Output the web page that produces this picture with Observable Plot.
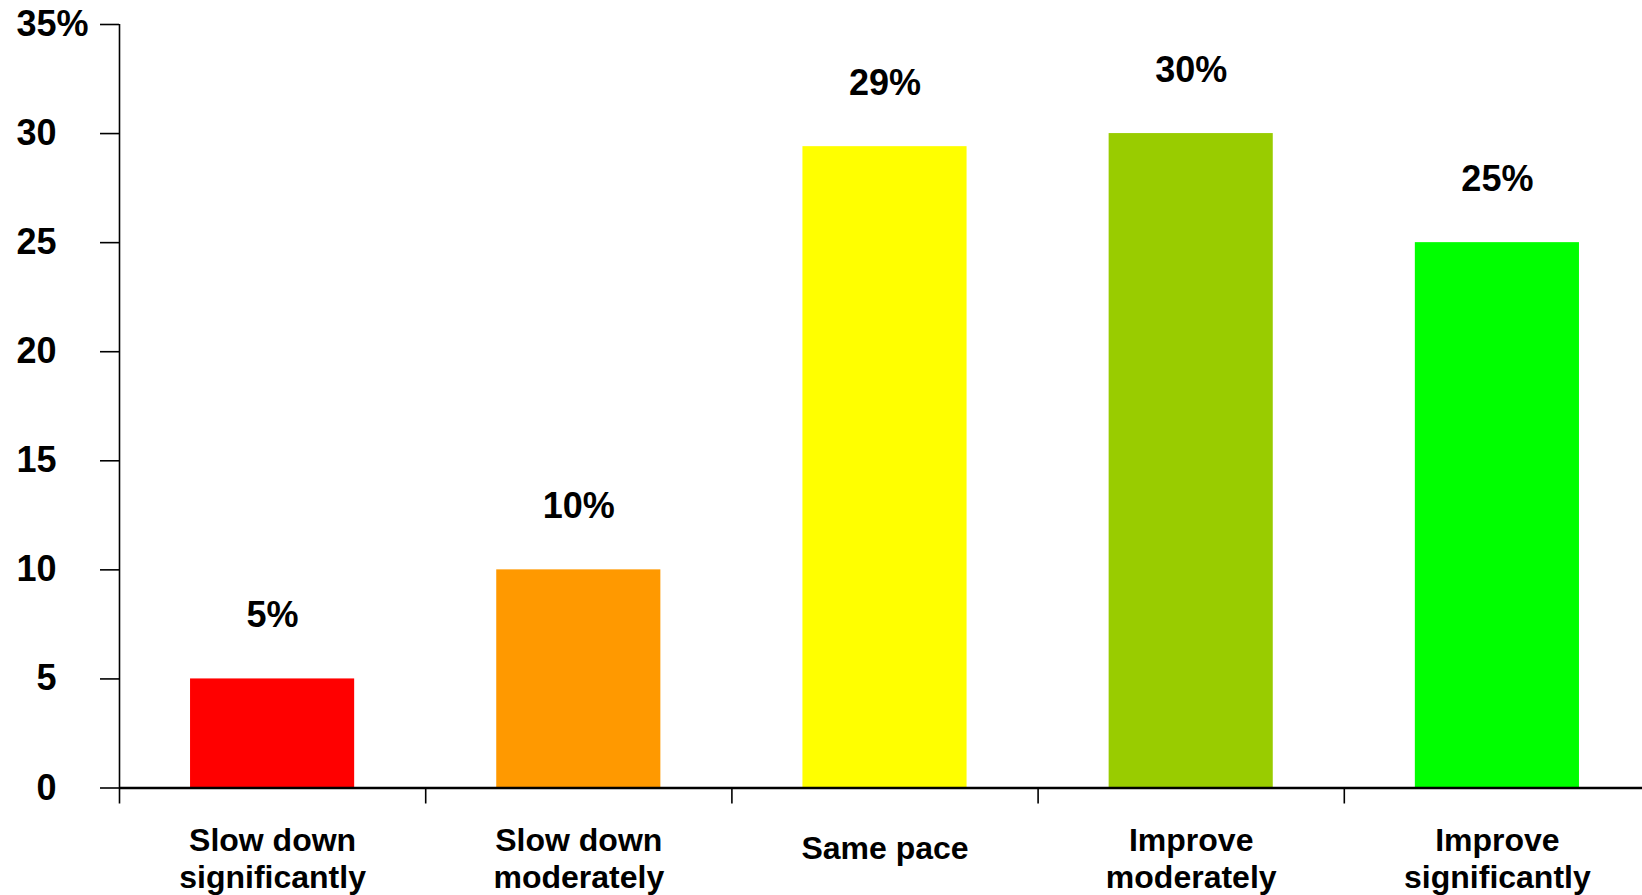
<!DOCTYPE html>
<html>
<head>
<meta charset="utf-8">
<script src="https://cdn.jsdelivr.net/npm/d3@7"></script>
<script src="https://cdn.jsdelivr.net/npm/@observablehq/plot@0.6"></script>
<style>
  html, body { margin: 0; padding: 0; overflow: hidden; background: #fff; }
  #chart svg { display: block; max-width: none !important; }
</style>
</head>
<body>
<div id="chart"></div>
<script>
// ---- Data ----
const categories = [
  "Slow down\nsignificantly",
  "Slow down\nmoderately",
  "Same pace",
  "Improve\nmoderately",
  "Improve\nsignificantly"
];
const values = [5, 10, 29.4, 30, 25];
const valueLabels = ["5%", "10%", "29%", "30%", "25%"];
const barColors = ["#ff0000", "#ff9900", "#ffff00", "#99cc00", "#00ff00"];
const yTicks = [0, 5, 10, 15, 20, 25, 30, 35];

// ---- Table built from arrays ----
const barPad = 0.232; // fraction of each category slot left empty on each side
const rows = categories.map((c, i) => ({
  i, category: c, value: values[i], label: valueLabels[i], color: barColors[i],
  x1: i + barPad, x2: i + 1 - barPad, xc: i + 0.5
}));
const multiLine = rows.filter(d => d.category.includes("\n"));
const singleLine = rows.filter(d => !d.category.includes("\n"));

const font = "'Liberation Sans', Arial, sans-serif";

const chart = Plot.plot({
  width: 1650,
  height: 895,
  marginLeft: 119,
  marginRight: 0,
  marginTop: 24,
  marginBottom: 107.5,
  style: { fontFamily: font, fontWeight: "bold", color: "#000", background: "#fff" },
  x: { type: "linear", domain: [0, categories.length], axis: null },
  y: { domain: [0, 35], axis: null },
  color: { type: "identity" },
  marks: [
    // bars
    Plot.rectY(rows, { x1: "x1", x2: "x2", y1: 0, y2: "value", fill: "color" }),
    // y axis ticks and labels
    Plot.axisY({
      ticks: yTicks, tickSize: 19, tickPadding: 44, strokeWidth: 1.6,
      fontSize: 36, fontWeight: "bold", tickFormat: d => String(d), anchor: "left",
      label: null
    }),
    // "%" suffix on top tick
    Plot.text([yTicks[yTicks.length - 1]], {
      y: d => d, frameAnchor: "left", dx: -63, text: () => "%",
      textAnchor: "start", fontSize: 36, fontWeight: "bold", fill: "#000"
    }),
    // y axis line
    Plot.ruleX([0], { stroke: "#000", strokeWidth: 1.6 }),
    // x baseline
    Plot.ruleY([0], { stroke: "#000", strokeWidth: 2.4 }),
    // category boundary ticks
    Plot.axisX({
      ticks: d3.range(0, categories.length + 1), tickSize: 16, strokeWidth: 1.6,
      tickFormat: () => "", anchor: "bottom", label: null
    }),
    // category labels
    Plot.text(multiLine, {
      x: "xc", y: 0, text: "category", lineAnchor: "top", lineHeight: 1.15,
      dy: 37, fontSize: 32, fontWeight: "bold", fill: "#000"
    }),
    Plot.text(singleLine, {
      x: "xc", y: 0, text: "category", lineAnchor: "top",
      dy: 48, fontSize: 32, fontWeight: "bold", fill: "#000"
    }),
    // value labels
    Plot.text(rows, {
      x: "xc", y: "value", text: "label", lineAnchor: "middle",
      dy: -63.5, fontSize: 36, fontWeight: "bold", fill: "#000"
    })
  ]
});

document.getElementById("chart").appendChild(chart);
</script>
</body>
</html>
